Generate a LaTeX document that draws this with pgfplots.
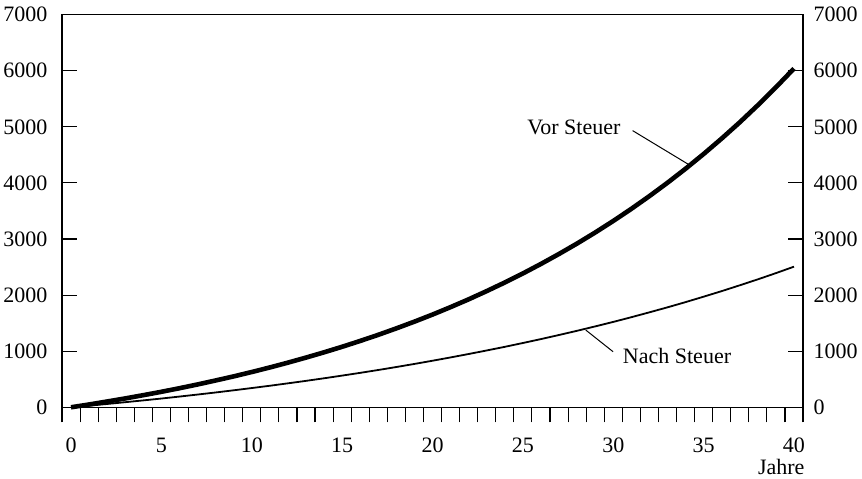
\documentclass[border=0pt]{standalone}
\usepackage{fontspec}
\setmainfont{Liberation Serif}
\usepackage{pgfplots}
\pgfplotsset{compat=1.18}
\usepackage{pgfplotstable}

% Jahre, Wert vor Steuer, Wert nach Steuer
\pgfplotstableread{
t vor nach
0 0 0
1 50 29
2 103 59
3 158 91
4 216 123
5 276 156
6 340 191
7 407 227
8 478 264
9 551 303
10 629 343
11 710 384
12 796 427
13 886 471
14 980 517
15 1079 565
16 1183 614
17 1292 665
18 1407 718
19 1527 773
20 1653 830
21 1786 889
22 1925 950
23 2072 1013
24 2225 1078
25 2386 1146
26 2556 1216
27 2734 1289
28 2920 1364
29 3116 1442
30 3322 1522
31 3538 1606
32 3765 1693
33 4003 1782
34 4253 1875
35 4516 1972
36 4792 2071
37 5081 2175
38 5386 2281
39 5705 2392
40 6040 2507
}\steuer

\newcommand{\lbl}{\fontsize{11}{13}\selectfont}

\begin{document}
\begin{tikzpicture}
\pgfplotsset{base/.style={
  width=370.5pt, height=196.3pt, scale only axis,
  xmin=-0.5, xmax=40.5, ymin=0, ymax=7000,
  /pgf/number format/assume math mode=true,
  /pgf/number format/set thousands separator={},
  scaled y ticks=false,
  tick label style={font=\lbl, inner sep=0pt},
  axis line style={line width=0.55pt},
  every tick/.style={black, line width=0.55pt},
  major tick length=7.5pt, minor tick length=7.5pt,
  ytick={0,1000,...,7000},
}}
\begin{axis}[base,
  clip=false,
  xtick={0,5,...,40},
  minor xtick={-0.5,0.5,...,40.5},
  major x tick style={draw=none},
  xtick pos=bottom,
  xtick align=outside,
  ytick align=inside,
  yticklabel pos=left,
  xticklabel style={anchor=base, yshift=-15.2pt},
  yticklabel style={xshift=-7.15pt},
]
\addplot[line width=2.3pt, black] table[x=t, y=vor] {\steuer};
\addplot[line width=0.9pt, black] table[x=t, y=nach] {\steuer};
\draw[line width=0.5pt] (axis cs:31.07,4933) -- (axis cs:34.15,4333);
\draw[line width=0.5pt] (axis cs:29.99,991) -- (axis cs:28.48,1377);
\node[font=\lbl] at (axis cs:27.82,4996) {Vor Steuer};
\node[font=\lbl] at (axis cs:33.53,914) {Nach Steuer};
\node[font=\lbl, anchor=base east, inner sep=0pt] at (axis cs:40.6,-1207) {Jahre};
\path (rel axis cs:-0.0837,-0.1826) rectangle (rel axis cs:1.0796,1.0374);
\end{axis}
\begin{axis}[base,
  hide x axis,
  axis y line*=right,
  yticklabel pos=right,
  ytick style={draw=none},
  yticklabel style={xshift=5.15pt},
]
\end{axis}
\end{tikzpicture}
\end{document}
